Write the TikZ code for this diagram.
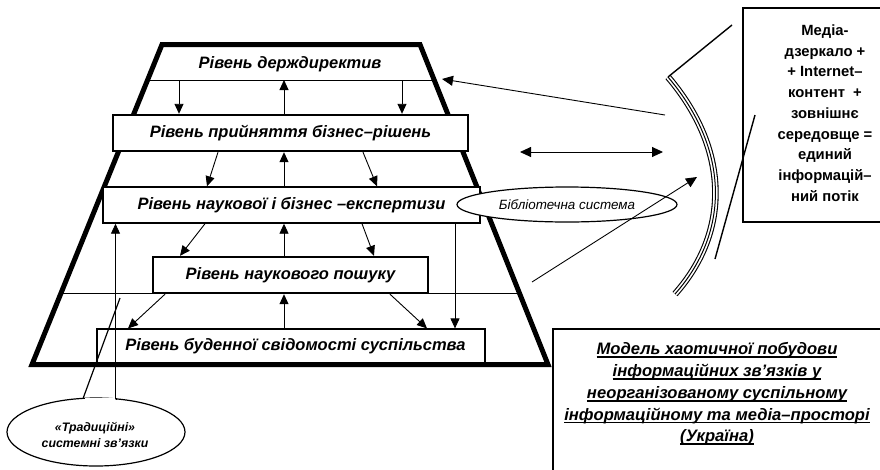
\documentclass[tikz,border=0pt]{standalone}
\usepackage{fontspec}
\setmainfont{Liberation Sans}
\usetikzlibrary{arrows.meta,shapes.geometric}
\newsavebox\ulbox
\newcommand\ulx[1]{\sbox\ulbox{#1}\rlap{\rule[-3.2pt]{\wd\ulbox}{1.8pt}}\usebox\ulbox}
\tikzset{
  lvltext/.style={font=\bfseries\itshape\fontsize{16.5}{18}\selectfont, inner sep=0pt},
  lvlbox/.style={draw, fill=white, lvltext, minimum height=36pt},
  ar/.style={line width=0.9pt, -{Triangle[length=10pt,width=9pt]}},
  arr/.style={line width=0.9pt, -{Triangle[length=11pt,width=10pt]}},
  thinln/.style={line width=0.9pt},
}
\begin{document}
\begin{tikzpicture}[x=1pt,y=-1pt]
\useasboundingbox (0,0) rectangle (880,469);
% thin horizontal lines of the pyramid
\coordinate (l1) at (0,80);
\draw[thinln] (147.6,80) -- (434.2,80);
\draw[thinln] (61,293) -- (519.4,293);
% bottom box
\node[lvlbox, line width=1.2pt, minimum width=388pt, minimum height=34pt] (b5) at (291,346) {\hspace*{9pt}Рівень буденної свідомості суспільства};
% pyramid outline
\draw[line width=5pt, line join=miter] (162,44.5) -- (420,44.5) -- (548,364.5) -- (32,364.5) -- cycle;
% level boxes
\node[lvltext] (b1) at (290,64) {Рівень держдиректив};
\node[lvlbox, line width=2.4pt, minimum width=355pt] (b2) at (290.5,133) {Рівень прийняття бізнес–рішень};
\node[lvlbox, line width=1.4pt, minimum width=377pt] (b3) at (291.5,205) {Рівень наукової і бізнес –експертизи};
\node[lvlbox, line width=2.4pt, minimum width=275pt] (b4) at (290.5,275) {Рівень наукового пошуку};
% arrows top line <-> b2
\draw[ar] (l1 -| 179,0) -- (b2.north -| 179,0);
\draw[ar] (l1 -| 402,0) -- (b2.north -| 402,0);
\draw[ar] (b2.north -| 284,0) -- (l1 -| 284,0);
% b2 <-> b3
\draw[ar] (b2.south -| 218,0) -- (b3.north -| 207,0);
\draw[ar] (b2.south -| 363,0) -- (b3.north -| 377,0);
\draw[ar] (b3.north -| 284,0) -- (b2.south -| 284,0);
% b3 <-> b4
\draw[ar] (b3.south -| 205,0) -- (b4.north -| 180,0);
\draw[ar] (b3.south -| 362,0) -- (b4.north -| 374,0);
\draw[ar] (b4.north -| 284,0) -- (b3.south -| 284,0);
% b4 <-> b5
\draw[ar] (b4.south -| 165,0) -- (b5.north -| 128,0);
\draw[ar] (b4.south -| 390,0) -- (b5.north -| 427,0);
\draw[ar] (b5.north -| 284,0) -- (b4.south -| 284,0);
% long vertical right
\draw[ar] (b3.south -| 455,0) -- (b5.north -| 455,0);
% library ellipse
\node[ellipse, draw, fill=white, line width=1.2pt, minimum width=220pt, minimum height=35pt, inner sep=0pt,
      font=\itshape\fontsize{13.4}{15}\selectfont] (lib) at (567,204.5) {Бібліотечна система};
% callout "traditional links"
\node[ellipse, draw, line width=1.2pt, minimum width=178pt, minimum height=68pt, inner sep=0pt] (trad) at (96,432) {};
\draw[white, line width=3pt] (85,399) -- (115,399);
\node[font=\bfseries\itshape\fontsize{12.3}{16.5}\selectfont, align=center, inner sep=0pt] (tradt) at (95,435) {«Традиційні»\\системні зв’язки};
\coordinate (tip) at (120,298);
\coordinate (tl) at (83,398.6);
\coordinate (tr) at (115.5,399);
\draw[line width=1.2pt] (tl) -- (tip);
\draw[line width=1.2pt] (tr) -- (117,399);
\draw[ar] (tr) -- (b3.south -| tr);
% triple arc
\coordinate (arcT) at (668,77);
\coordinate (arcB) at (675,294);
\draw[line width=6.6pt] (arcT) .. controls (730,150) and (730,232) .. (arcB);
\draw[white, line width=4.4pt] (arcT) .. controls (730,150) and (730,232) .. (arcB);
\draw[line width=1pt] (arcT) .. controls (730,150) and (730,232) .. (arcB);
% arrows from the arc
\coordinate (a1s) at (665,115);
\coordinate (a1e) at (442,79);
\draw[arr] (a1s) -- (a1e);
\coordinate (a2l) at (520,152);
\coordinate (a2r) at (663,152);
\draw[arr, {Triangle[length=11pt,width=10pt]}-{Triangle[length=11pt,width=10pt]}] (a2l) -- (a2r);
\coordinate (a3s) at (532,282);
\coordinate (a3e) at (697,177);
\draw[arr] (a3s) -- (a3e);
% media box
\node[draw, line width=2pt, minimum width=164pt, minimum height=214pt, inner sep=0pt] (media) at (825,115) {};
\node[font=\bfseries\fontsize{14.8}{20.75}\selectfont, align=center, inner sep=0pt] (mediat) at (825,113) {Медіа-\\дзеркало +\\+ Internet–\\контент~~+\\зовнішнє\\середовще =\\единий\\інформацій–\\ний потік};
\coordinate (m1) at (732,25);
\coordinate (m2) at (755,115);
\coordinate (m3) at (715,259);
\draw[line width=1.4pt] (arcT) -- (m1);
\draw[line width=1.4pt] (m2) -- (m3);
% model box
\node[draw, line width=1.4pt, minimum width=332pt, minimum height=151pt, inner sep=0pt] (model) at (719,404.5) {};
\node[font=\bfseries\itshape\fontsize{16.6}{21.8}\selectfont, align=center, inner sep=0pt] (modelt) at (717,394) {\ulx{Модель хаотичної побудови}\\\ulx{інформаційних зв’язків у}\\\ulx{неорганізованому суспільному}\\\ulx{інформаційному та медіа–просторі}\\\ulx{(Україна)}};
\end{tikzpicture}
\end{document}
